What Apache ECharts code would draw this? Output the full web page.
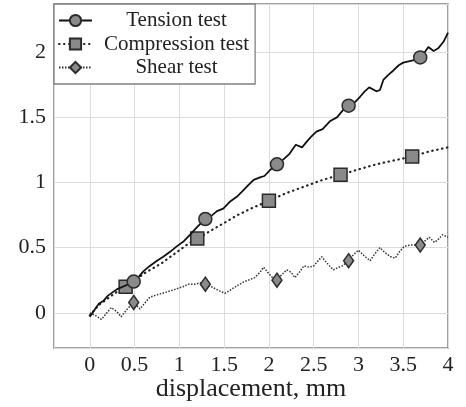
<!DOCTYPE html>
<html>
<head>
<meta charset="utf-8">
<script src="https://cdn.jsdelivr.net/npm/echarts@6/dist/echarts.min.js"></script>
<style>
  html, body { margin: 0; padding: 0; background: #fff; }
  #chart { width: 466px; height: 407px; }
</style>
</head>
<body>
<div id="chart"></div>
<script>
// Load–displacement curves for three specimen tests, [displacement mm, value]
const tensionCurve = [
  [0,-0.03],[0.05,0.02],[0.1,0.07],[0.15,0.09],[0.2,0.13],[0.3,0.18],[0.4,0.21],[0.49,0.24],
  [0.55,0.28],[0.6,0.32],[0.67,0.36],[0.75,0.40],[0.82,0.43],[0.9,0.47],[0.97,0.51],[1.05,0.55],
  [1.12,0.60],[1.2,0.66],[1.29,0.72],[1.35,0.74],[1.42,0.78],[1.49,0.80],[1.56,0.85],[1.64,0.89],
  [1.7,0.93],[1.77,0.98],[1.83,1.02],[1.9,1.04],[1.95,1.05],[2.02,1.10],[2.09,1.14],[2.15,1.17],
  [2.23,1.22],[2.3,1.29],[2.37,1.27],[2.43,1.32],[2.47,1.35],[2.53,1.39],[2.6,1.41],[2.68,1.47],
  [2.76,1.50],[2.82,1.55],[2.89,1.59],[2.95,1.61],[3.02,1.66],[3.07,1.70],[3.12,1.73],[3.2,1.70],
  [3.24,1.71],[3.28,1.79],[3.34,1.83],[3.39,1.86],[3.45,1.90],[3.5,1.92],[3.56,1.93],[3.62,1.94],
  [3.69,1.96],[3.74,2.00],[3.78,2.04],[3.84,2.01],[3.89,2.03],[3.95,2.08],[4.0,2.15]
];
const compressionCurve = [
  [0,-0.02],[0.1,0.06],[0.2,0.11],[0.3,0.16],[0.4,0.20],[0.5,0.24],[0.6,0.30],[0.7,0.34],
  [0.8,0.38],[0.9,0.43],[1.0,0.48],[1.1,0.53],[1.2,0.57],[1.35,0.63],[1.5,0.69],[1.65,0.75],
  [1.8,0.80],[2.0,0.86],[2.2,0.92],[2.4,0.97],[2.6,1.02],[2.8,1.06],[3.0,1.10],[3.2,1.14],
  [3.4,1.17],[3.6,1.20],[3.8,1.24],[4.0,1.27]
];
const shearCurve = [
  [0,0.0],[0.06,-0.02],[0.13,-0.05],[0.19,0.0],[0.24,0.04],[0.3,0.01],[0.35,-0.03],[0.42,0.03],
  [0.49,0.08],[0.56,0.03],[0.62,0.08],[0.67,0.12],[0.76,0.14],[0.86,0.16],[0.95,0.18],[1.04,0.20],
  [1.1,0.22],[1.17,0.22],[1.24,0.23],[1.29,0.22],[1.36,0.20],[1.44,0.17],[1.51,0.15],[1.58,0.18],
  [1.65,0.21],[1.73,0.24],[1.84,0.27],[1.9,0.31],[1.94,0.35],[2.0,0.30],[2.04,0.27],[2.09,0.25],
  [2.14,0.29],[2.2,0.33],[2.25,0.31],[2.29,0.27],[2.35,0.32],[2.39,0.36],[2.45,0.35],[2.5,0.36],
  [2.55,0.40],[2.59,0.43],[2.65,0.38],[2.72,0.33],[2.78,0.35],[2.82,0.36],[2.89,0.40],[2.95,0.45],
  [3.0,0.48],[3.06,0.44],[3.13,0.40],[3.18,0.45],[3.24,0.50],[3.3,0.46],[3.36,0.43],[3.41,0.42],
  [3.46,0.47],[3.51,0.51],[3.58,0.52],[3.69,0.52],[3.74,0.55],[3.79,0.58],[3.85,0.54],[3.9,0.57],
  [3.94,0.60],[4.0,0.58]
];
// Displacements at which each curve carries a marker
const tensionMarks = [0.49, 1.29, 2.09, 2.89, 3.69];
const compressionMarks = [0.4, 1.2, 2.0, 2.8, 3.6];
const shearMarks = [0.49, 1.29, 2.09, 2.89, 3.69];

const seriesNames = ['Tension test', 'Compression test', 'Shear test'];
const xAxisName = 'displacement, mm';

const FONT = '"Liberation Serif", "DejaVu Serif", serif';

function withMarks(curve, marks) {
  return curve.map(function (p) {
    const marked = marks.some(function (m) { return Math.abs(m - p[0]) < 1e-9; });
    return marked ? { value: p } : { value: p, symbol: 'none' };
  });
}

function halfStep(v) {
  return Math.abs(v * 2 - Math.round(v * 2)) < 1e-6 ? String(+v.toFixed(2)) : '';
}

const markerStyle = { color: '#8a8a8a', borderColor: '#2a2a2a', borderWidth: 1.5 };

const chart = echarts.init(document.getElementById('chart'), null, { renderer: 'canvas' });
chart.setOption({
  animation: false,
  backgroundColor: '#fff',
  grid: {
    left: 54, right: 18, top: 4, bottom: 59,
    outerBoundsMode: 'none',
    containLabel: false,
    show: true, borderColor: '#808080', borderWidth: 1.5, backgroundColor: 'transparent'
  },
  legend: {
    orient: 'vertical',
    left: 54, top: 4,
    padding: [6, 6, 6, 4],
    itemGap: 2.5,
    itemWidth: 33, itemHeight: 14,
    backgroundColor: '#fff',
    borderColor: '#808080', borderWidth: 1.3,
    data: seriesNames,
    formatter: function (name) { return '{c|' + name + '}'; },
    textStyle: {
      fontFamily: FONT, fontSize: 21, color: '#222',
      rich: { c: { width: 159, align: 'center', fontFamily: FONT, fontSize: 21, color: '#222' } }
    }
  },
  xAxis: {
    type: 'value',
    min: -0.4, max: 4,
    minInterval: 0.5, maxInterval: 0.5,
    name: xAxisName,
    nameLocation: 'middle',
    nameMoveOverlap: false,
    nameGap: 28,
    nameTextStyle: { fontFamily: FONT, fontSize: 26, color: '#222' },
    axisLine: { show: false },
    axisTick: { show: false },
    axisLabel: { fontFamily: FONT, fontSize: 22, color: '#222', margin: 6, formatter: halfStep },
    splitLine: { show: true, lineStyle: { color: '#dcdcdc', width: 1 } }
  },
  yAxis: {
    type: 'value',
    min: -0.27, max: 2.37,
    minInterval: 0.5, maxInterval: 0.5,
    axisLine: { show: false },
    axisTick: { show: false },
    axisLabel: { fontFamily: FONT, fontSize: 22, color: '#222', margin: 8, formatter: halfStep },
    splitLine: { show: true, lineStyle: { color: '#dcdcdc', width: 1 } }
  },
  series: [
    {
      name: seriesNames[0], type: 'line',
      data: withMarks(tensionCurve, tensionMarks),
      symbol: 'circle', symbolSize: 13, showSymbol: true,
      lineStyle: { color: '#111', width: 1.8, type: 'solid' },
      itemStyle: markerStyle, z: 5
    },
    {
      name: seriesNames[1], type: 'line',
      data: withMarks(compressionCurve, compressionMarks),
      symbol: 'rect', symbolSize: 13, showSymbol: true,
      lineStyle: { color: '#222', width: 2.2, type: [0.5, 4.5], cap: 'round' },
      itemStyle: markerStyle, z: 4
    },
    {
      name: seriesNames[2], type: 'line',
      data: withMarks(shearCurve, shearMarks),
      symbol: 'diamond', symbolSize: [10, 14], showSymbol: true,
      lineStyle: { color: '#333', width: 1.5, type: [1.5, 1.5] },
      itemStyle: markerStyle, z: 3
    }
  ]
});
</script>
</body>
</html>
